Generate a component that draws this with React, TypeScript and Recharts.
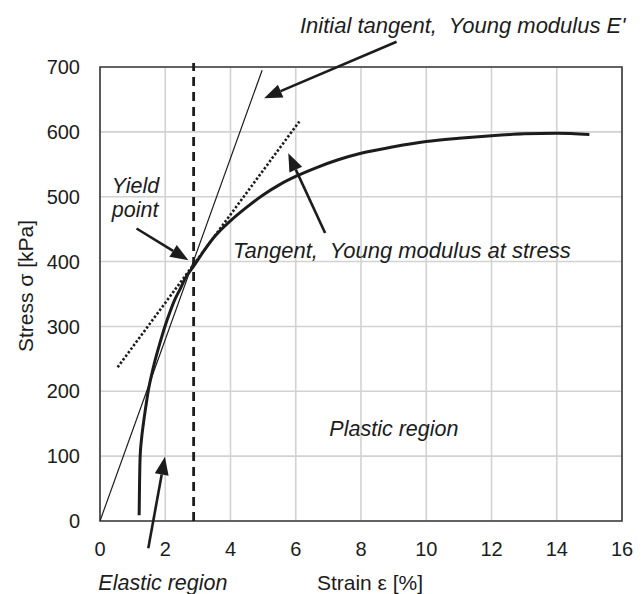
import {
  CartesianGrid,
  Line,
  LineChart,
  ReferenceArea,
  ReferenceDot,
  ReferenceLine,
  XAxis,
  YAxis,
} from "recharts";

// Stress-strain curve
const strain = [
  1.2, 1.21, 1.23, 1.27, 1.33, 1.4, 1.48, 1.58, 1.69, 1.84, 1.99, 2.15, 2.3,
  2.46, 2.61, 2.86, 3.15, 3.47, 3.98, 4.5, 5.01, 5.52, 6.03, 6.64, 7.3, 8, 9,
  10, 11, 12, 13, 14, 15,
];
const stress = [
  9, 50, 99, 125, 150, 175, 201, 225, 248, 275, 300, 323, 342, 358, 374, 392,
  414, 436, 462, 484, 503, 519, 532, 545, 557, 567, 577, 585, 590, 594, 597,
  598, 596,
];

// Initial tangent (Young modulus E') and tangent at yield
const initialTangentX = [0, 4.97];
const initialTangentY = [0, 695];
const yieldTangentX = [0.54, 6.11];
const yieldTangentY = [237, 616];

const yieldStrain = 2.87;
const xTicks = [0, 2, 4, 6, 8, 10, 12, 14, 16];
const yTicks = [0, 100, 200, 300, 400, 500, 600, 700];

const FONT = "'Liberation Sans', Arial, sans-serif";
const INK = "#1c1c1c";

const toPoints = (xs: number[], ys: number[]) =>
  xs.map((x, i) => ({ x, y: ys[i] }));

// arrows: [tail, tip] in data units
const arrows = [
  { from: { x: 9.09, y: 739 }, to: { x: 5.03, y: 652 } },
  { from: { x: 6.9, y: 444 }, to: { x: 5.77, y: 567 } },
  { from: { x: 1.12, y: 451 }, to: { x: 2.71, y: 402 } },
  { from: { x: 1.48, y: -42 }, to: { x: 1.99, y: 99 } },
];

const notes = [
  { x: 6.13, y: 752, lines: ["Initial tangent,  Young modulus E'"], size: 22 },
  { x: 0.36, y: 505, lines: ["Yield", "point"], size: 21.5 },
  { x: 4.08, y: 405, lines: ["Tangent,  Young modulus at stress"], size: 22 },
  { x: 7.03, y: 131, lines: ["Plastic region"], size: 21.5 },
  { x: -0.05, y: -106, lines: ["Elastic region"], size: 21.5 },
];

function Arrow(props: any) {
  const { x1, y1, x2, y2 } = props;
  const dx = x2 - x1;
  const dy = y2 - y1;
  const len = Math.hypot(dx, dy) || 1;
  const ux = dx / len;
  const uy = dy / len;
  const hl = 18;
  const hw = 7;
  const bx = x2 - ux * hl;
  const by = y2 - uy * hl;
  return (
    <g>
      <line x1={x1} y1={y1} x2={bx} y2={by} stroke={INK} strokeWidth={2.6} />
      <polygon
        points={`${x2},${y2} ${bx - uy * hw},${by + ux * hw} ${bx + uy * hw},${by - ux * hw}`}
        fill={INK}
      />
    </g>
  );
}

function noteShape(lines: string[], size: number) {
  return (props: any) => (
    <text
      x={props.cx}
      y={props.cy}
      fontFamily={FONT}
      fontSize={size}
      fontStyle="italic"
      fill={INK}
      style={{ whiteSpace: "pre" }}
    >
      {lines.map((l, i) => (
        <tspan key={i} x={props.cx} dy={i === 0 ? 0 : 24}>
          {l}
        </tspan>
      ))}
    </text>
  );
}

function YTitle(props: any) {
  const vb = props.viewBox;
  const cx = vb.x + 25;
  const cy = vb.y + vb.height / 2 - 8;
  return (
    <text
      x={cx}
      y={cy}
      transform={`rotate(-90 ${cx} ${cy})`}
      textAnchor="middle"
      dominantBaseline="central"
      fontFamily={FONT}
      fontSize={21}
      fill={INK}
    >
      Stress σ [kPa]
    </text>
  );
}

export default function App() {
  const tick = { fill: INK, fontSize: 20, fontFamily: FONT };
  return (
    <div style={{ position: "absolute", left: 0, top: 0, background: "#fff" }}>
      <LineChart
        width={643}
        height={594}
        margin={{ top: 67, right: 21, bottom: 0, left: 0 }}
        style={{ fontFamily: FONT }}
      >
        <CartesianGrid stroke="#d2d2d2" strokeWidth={1.6} />
        <XAxis
          type="number"
          dataKey="x"
          domain={[0, 16]}
          ticks={xTicks}
          axisLine={false}
          tickLine={false}
          tick={tick}
          tickMargin={15}
          height={73}
          allowDataOverflow
          label={{
            value: "Strain ε [%]",
            position: "insideBottom",
            offset: 4,
            dx: 9,
            fill: INK,
            fontSize: 21,
            fontFamily: FONT,
          }}
        />
        <YAxis
          type="number"
          domain={[0, 700]}
          ticks={yTicks}
          axisLine={false}
          tickLine={false}
          tick={tick}
          tickMargin={14}
          width={100}
          allowDataOverflow
          label={{ content: YTitle }}
        />
        <ReferenceArea
          x1={0}
          x2={16}
          y1={0}
          y2={700}
          fill="none"
          fillOpacity={0}
          stroke="#3a3a3a"
          strokeWidth={1.6}
        />
        <Line
          data={toPoints(initialTangentX, initialTangentY)}
          dataKey="y"
          type="linear"
          stroke={INK}
          strokeWidth={1.2}
          dot={false}
          isAnimationActive={false}
        />
        <Line
          data={toPoints(yieldTangentX, yieldTangentY)}
          dataKey="y"
          type="linear"
          stroke={INK}
          strokeWidth={2.6}
          strokeDasharray="2.4 2"
          dot={false}
          isAnimationActive={false}
        />
        <ReferenceLine
          segment={[
            { x: yieldStrain, y: 0 },
            { x: yieldStrain, y: 706 },
          ]}
          ifOverflow="visible"
          stroke={INK}
          strokeWidth={2.8}
          strokeDasharray="9 6"
        />
        <Line
          data={toPoints(strain, stress)}
          dataKey="y"
          type="monotone"
          stroke={INK}
          strokeWidth={3}
          dot={false}
          isAnimationActive={false}
        />
        {arrows.map((a, i) => (
          <ReferenceLine
            key={`arrow-${i}`}
            segment={[a.from, a.to]}
            ifOverflow="visible"
            shape={Arrow}
          />
        ))}
        {notes.map((n, i) => (
          <ReferenceDot
            key={`note-${i}`}
            x={n.x}
            y={n.y}
            r={1}
            ifOverflow="visible"
            shape={noteShape(n.lines, n.size)}
          />
        ))}
      </LineChart>
    </div>
  );
}
